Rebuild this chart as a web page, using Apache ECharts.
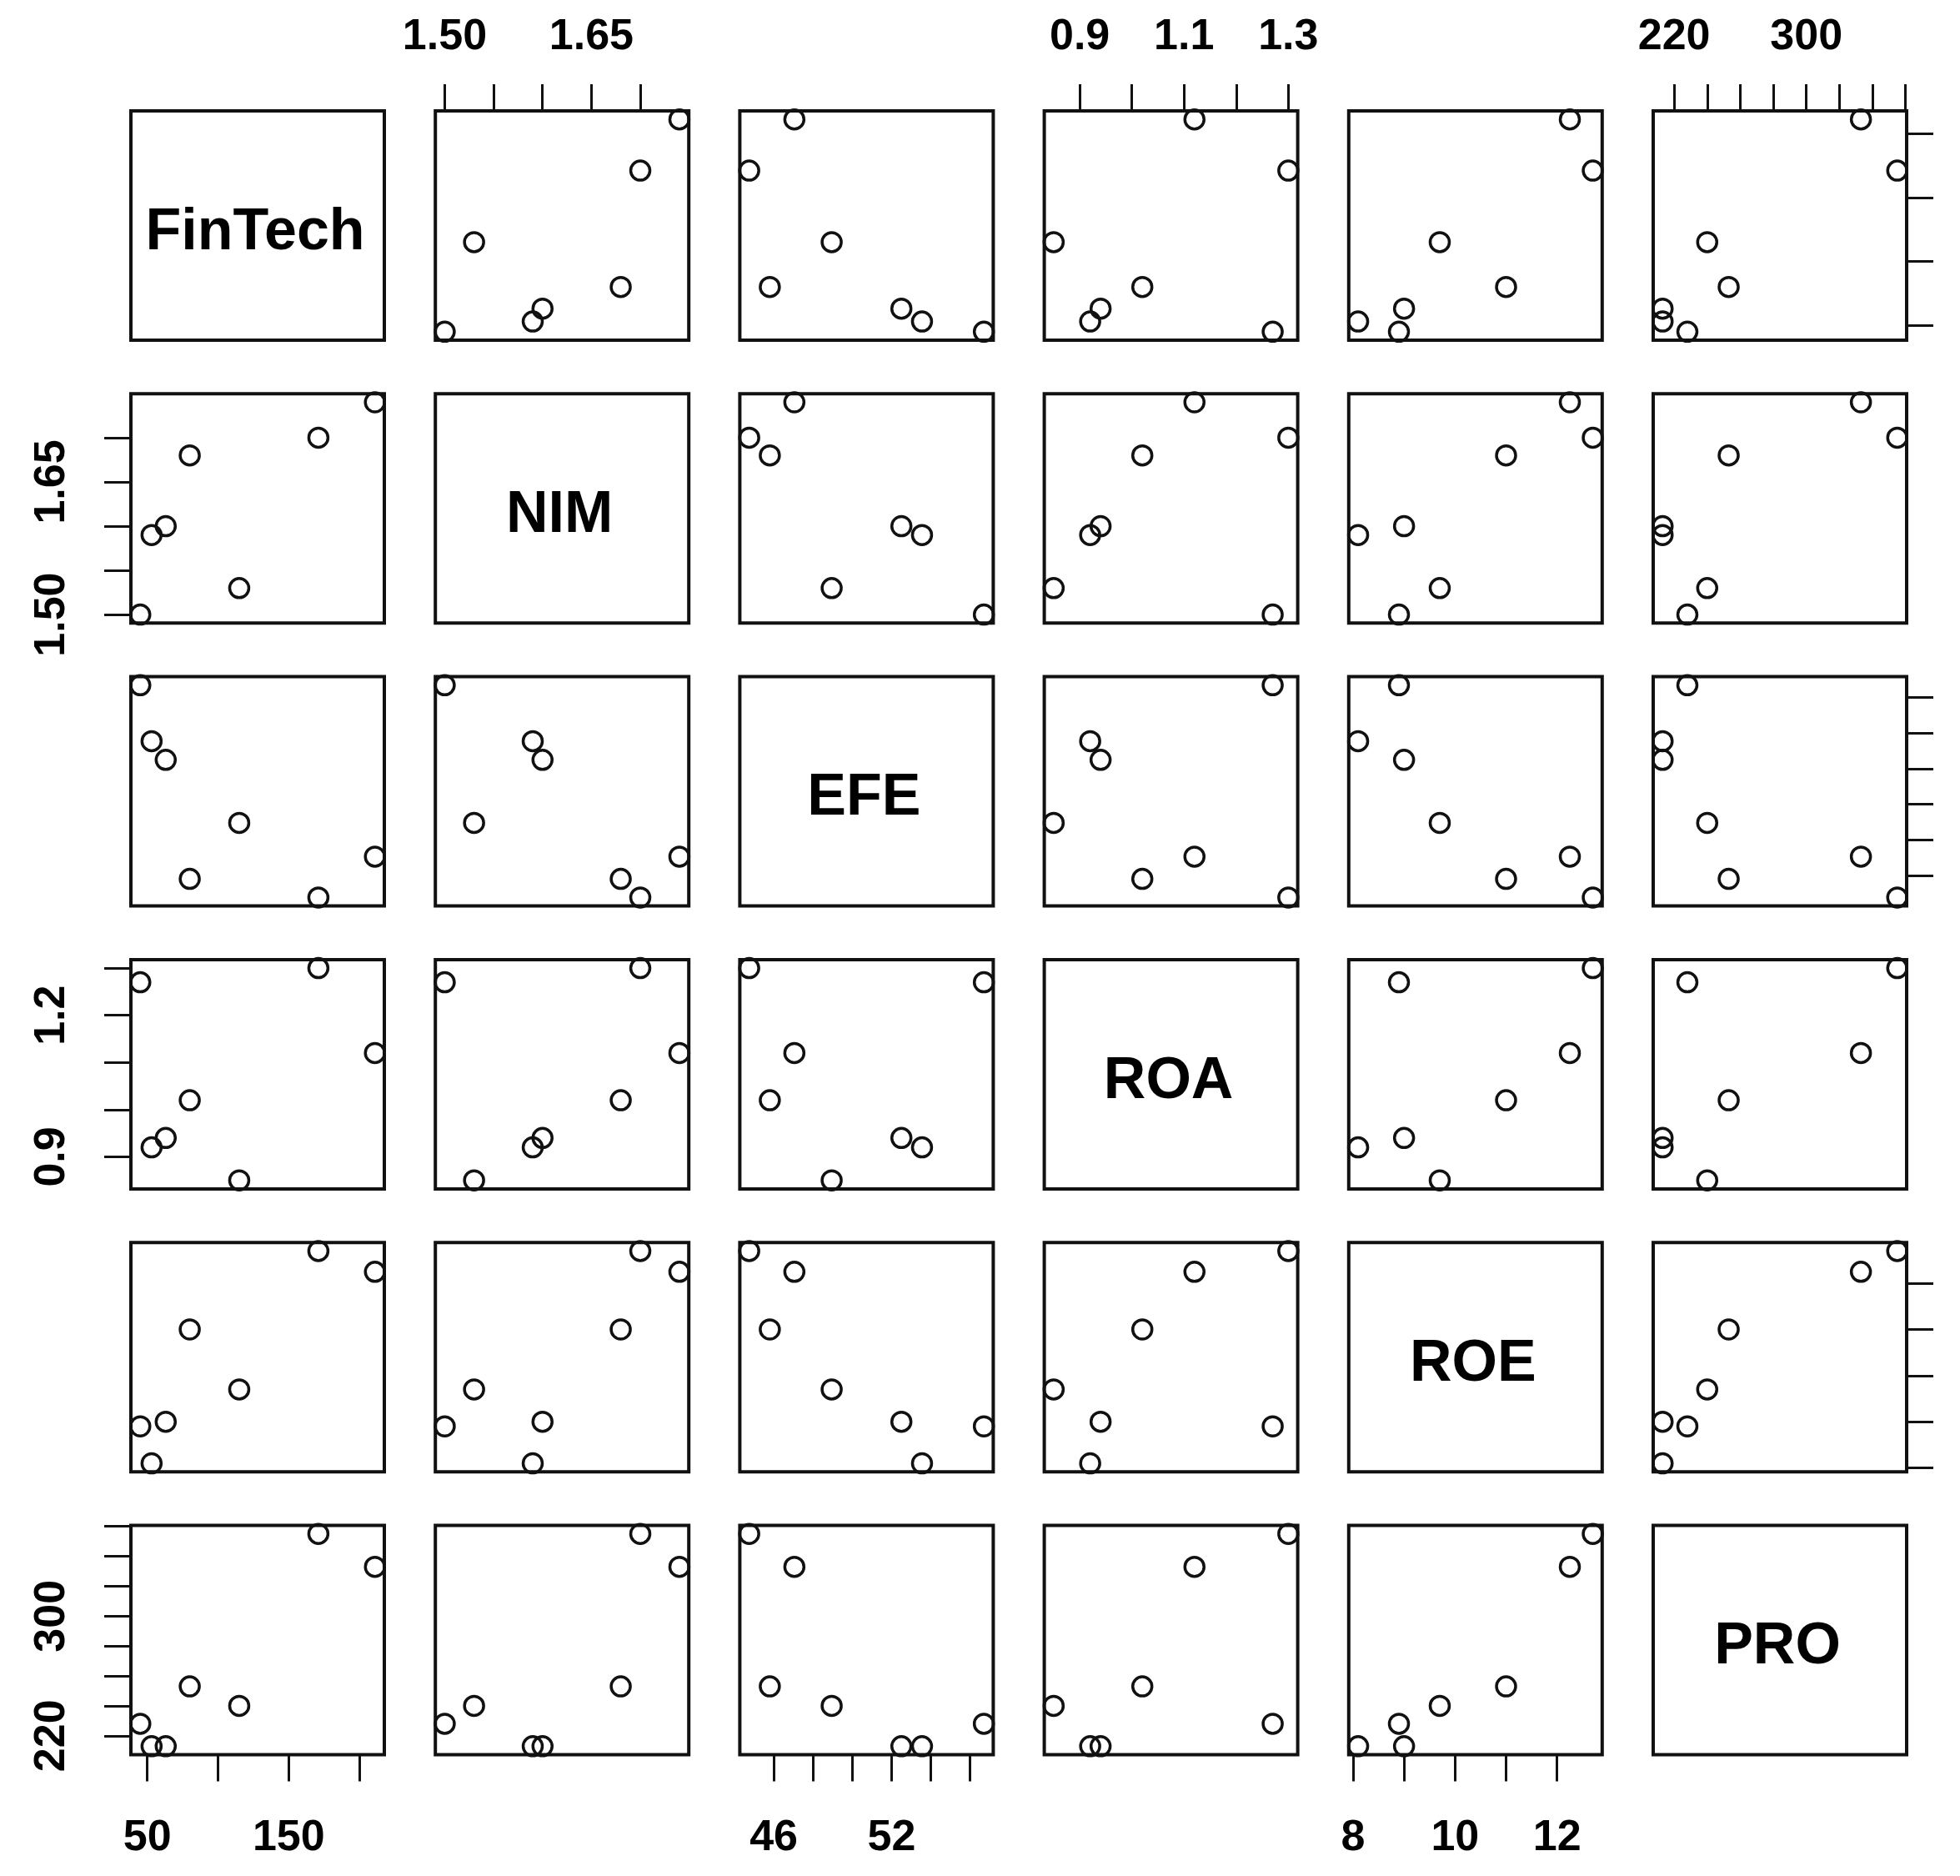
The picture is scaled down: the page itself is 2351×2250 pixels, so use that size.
<!DOCTYPE html>
<html>
<head>
<meta charset="utf-8">
<title>pairs</title>
<script src="https://cdn.jsdelivr.net/npm/echarts@6.0.0/dist/echarts.min.js"></script>
<style>
html, body { margin: 0; padding: 0; background: #fff; }
#pairs { width: 2351px; height: 2250px; position: absolute; left: 0; top: 0; }
</style>
</head>
<body>
<div id="pairs"></div>
<script>
// variables, in matrix order
var varNames = ['FinTech', 'NIM', 'EFE', 'ROA', 'ROE', 'PRO'];

// 7 observations of each variable
var finTech = [45, 53, 63, 80, 115, 171, 211];
var nim = [1.50, 1.59, 1.60, 1.68, 1.53, 1.70, 1.74];
var efe = [56.7, 53.55, 52.5, 45.8, 48.95, 44.75, 47.05];
var roa = [1.27, 0.92, 0.94, 1.02, 0.85, 1.30, 1.12];
var roe = [8.9, 8.1, 9.0, 11.0, 9.7, 12.7, 12.25];
var pro = [228, 213, 213, 253, 240, 355, 333];

// tick marks of each variable
var finTechTicks = [50, 100, 150, 200];
var nimTicks = [1.50, 1.55, 1.60, 1.65, 1.70];
var efeTicks = [46, 48, 50, 52, 54, 56];
var roaTicks = [0.9, 1.0, 1.1, 1.2, 1.3];
var roeTicks = [8, 9, 10, 11, 12];
var proTicks = [220, 240, 260, 280, 300, 320, 340, 360];

// tick labels that are printed (the rest are dropped, as in R)
var finTechLabels = [50, 150];
var nimLabels = [1.50, 1.65];
var efeLabels = [46, 52];
var roaTopLabels = [0.9, 1.1, 1.3];
var roaLeftLabels = [0.9, 1.2];
var roeLabels = [8, 10, 12];
var proLabels = [220, 300];

function createPairsChart() {
    var vars = [finTech, nim, efe, roa, roe, pro];
    var ticks = [finTechTicks, nimTicks, efeTicks, roaTicks, roeTicks, proTicks];
    var decimals = [0, 2, 0, 1, 0, 0];
    var topLabels = [null, nimLabels, null, roaTopLabels, null, proLabels];
    var bottomLabels = [finTechLabels, null, efeLabels, null, roeLabels, null];
    var leftLabels = [null, nimLabels, null, roaLeftLabels, null, proLabels];

    // panel layout
    var panelLeft = 157, panelTop = 133;
    var stepX = 365.2, stepY = 339.3;
    var panelW = 304, panelH = 275;

    var ink = '#111';
    var fontFamily = '"Liberation Sans", Arial, sans-serif';

    // same 4% padding as R's default axis range
    function padRange(arr) {
        var mn = Math.min.apply(null, arr);
        var mx = Math.max.apply(null, arr);
        var r = mx - mn;
        return [mn - 0.04 * r, mx + 0.04 * r];
    }

    function makeAxis(idx, range, pos, tickVals, labelVals, dec, isY) {
        var a = {
            gridIndex: idx, type: 'value', min: range[0], max: range[1],
            position: pos,
            splitLine: { show: false },
            axisLine: { show: false, onZero: false },
            axisTick: { show: false },
            axisLabel: { show: false }
        };
        if (tickVals) {
            a.axisTick = {
                show: true, customValues: tickVals,
                length: 32, lineStyle: { color: ink, width: 3 }
            };
            a.axisLabel = {
                show: !!labelVals,
                formatter: function (v) { return Number(v).toFixed(dec); },
                fontSize: 52, fontWeight: 'bold', color: '#000', fontFamily: fontFamily,
                margin: isY ? 68 : (pos === 'top' ? 62 : 74)
            };
            if (labelVals) a.axisLabel.customValues = labelVals;
            if (isY) a.axisLabel.rotate = 90;
        }
        return a;
    }

    var grids = [], xAxes = [], yAxes = [], series = [], graphics = [];

    for (var i = 0; i < 6; i++) {
        for (var j = 0; j < 6; j++) {
            var idx = i * 6 + j;
            var left = panelLeft + j * stepX;
            var top = panelTop + i * stepY;
            grids.push({
                left: left, top: top, width: panelW, height: panelH,
                show: true, borderColor: ink, borderWidth: 4
            });

            var diag = (i === j);
            var xr = diag ? [0, 1] : padRange(vars[j]);
            var yr = diag ? [0, 1] : padRange(vars[i]);

            // R pairs(): axes alternate between top/bottom and left/right
            var xTop = !diag && i === 0 && j % 2 === 1;
            var xBottom = !diag && i === 5 && j % 2 === 0;
            var yLeft = !diag && j === 0 && i % 2 === 1;
            var yRight = !diag && j === 5 && i % 2 === 0;

            var xl = xTop ? topLabels[j] : (xBottom ? bottomLabels[j] : null);
            var yl = yLeft ? leftLabels[i] : null;

            xAxes.push(makeAxis(idx, xr, xTop ? 'top' : 'bottom',
                (xTop || xBottom) ? ticks[j] : null, xl, decimals[j], false));
            yAxes.push(makeAxis(idx, yr, yRight ? 'right' : 'left',
                (yLeft || yRight) ? ticks[i] : null, yl, decimals[i], true));

            if (diag) {
                graphics.push({
                    type: 'text',
                    x: left + panelW / 2 - 3,
                    y: top + panelH / 2 + 9,
                    style: {
                        text: varNames[i],
                        fontSize: 70, fontWeight: 'bold', fontFamily: fontFamily,
                        fill: '#000',
                        align: 'center', verticalAlign: 'middle'
                    }
                });
            } else {
                var xs = vars[j], ys = vars[i];
                series.push({
                    type: 'scatter',
                    xAxisIndex: idx, yAxisIndex: idx,
                    data: xs.map(function (v, k) { return [v, ys[k]]; }),
                    symbol: 'circle', symbolSize: 23,
                    silent: true,
                    itemStyle: { color: 'rgba(255,255,255,0)', borderColor: ink, borderWidth: 3.5, opacity: 1 }
                });
            }
        }
    }

    var chart = echarts.init(document.getElementById('pairs'));
    chart.setOption({
        backgroundColor: '#fff',
        animation: false,
        grid: grids,
        xAxis: xAxes,
        yAxis: yAxes,
        series: series,
        graphic: graphics
    });
}

createPairsChart();
</script>
</body>
</html>
